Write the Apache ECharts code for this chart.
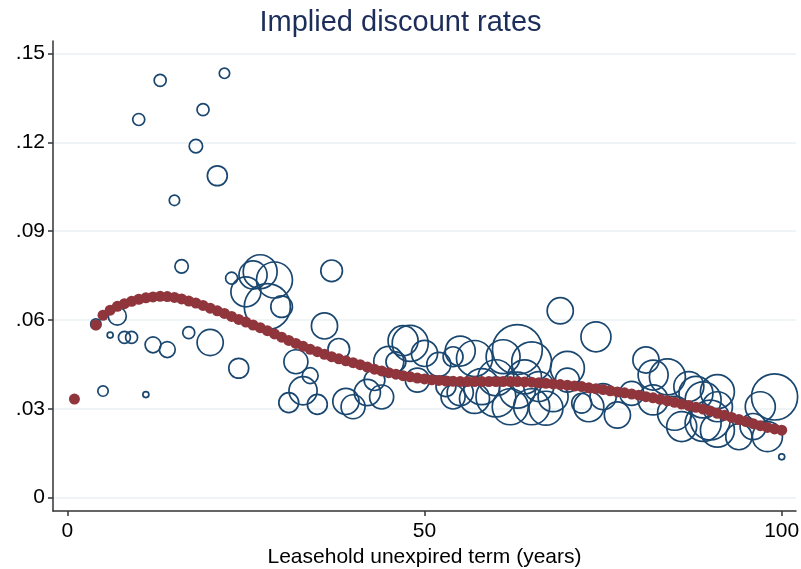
<!DOCTYPE html>
<html>
<head>
<meta charset="utf-8">
<script src="https://cdn.jsdelivr.net/npm/echarts@6/dist/echarts.min.js"></script>
<style>html,body{margin:0;padding:0;background:#fff}#c{width:801px;height:569px}</style>
</head>
<body>
<div id="c"></div>
<script>
// Observed implied discount rates: term (years), rate, weight
const obsTerm = [10,13,22,19,18,21,15,16,37,23, 4,7,6,8,9,5,11,12,14,17,20,24, 25,26,27,29,28,30, 32,34,33,31,35,36,38,
  39,40,42,44,43,45,46,48,47,50,49,52,53,54,54, 55,55,57,57,58,60,60,61,62,63,63,64,65,65,66,67,68,69,70,70,72,74,73,
  75,77,79,81,82,84,82,85,86,88,91,91,89,91,94,97,99,98,96,100,87,89,90];
const obsRate = [.1277,.1409,.1433,.1310,.1187,.1087,.1004,.0781,.0766,.0741, .0586,.0613,.0549,.0541,.0541,.0360,.0348,.0516,.0500,.0557,.0524,.0437,
  .0695,.0752,.0763,.0735,.0645,.0645, .0459,.0412,.0361,.0321,.0315,.0580,.0501,
  .0325,.0307,.0355,.0340,.0397,.0460,.0459,.0521,.0530,.0487,.0397,.0450,.0375,.0476,.0340,
  .0495,.0355,.0470,.0335,.0375,.0405,.0340,.0476,.0307,.0500,.0363,.0408,.0459,.0307,.0375,.0302,.0341,.0631,.0437,.0397,.0319,.0543,.0307,
  .0341,.0279,.0352,.0465,.0414,.0408,.0330,.0285,.0240,.0352,.0358,.0307,.0251,.0228,.0206,.0307,.0340,.0206,.0240,.0138,.0375,.0330,.0262];
const obsWeight = [4,4,3,4,5,11,3,5,13,4, 3,9,1,4,4,3,1,7,7,4,19,11, 25,22,32,36,59,13, 16,7,22,11,11,19,13,
  19,16,19,16,12,25,11,36,25,19,16,16,11,11,16, 25,19,36,25,36,36,44,32,36,69,36,32,44,36,25,32,25,19,32,16,11,25,25,
  19,19,16,19,25,36,25,32,25,32,32,25,36,32,19,25,59,25,19,1,25,36,44];

// Fitted (smoothed) discount rate by term
const fitTerm = [1,4,5,6,7,8,9,10,11,12,13,14,15,16,17,18,19,20,21,22,23,24,25,26,27,28,29,30,31,32,33,34,35,36,37,38,39,40,
  41,42,43,44,45,46,47,48,49,50,51,52,53,54,55,56,57,58,59,60,61,62,63,64,65,66,67,68,69,70,71,72,73,74,75,76,77,78,79,80,
  81,82,83,84,85,86,87,88,89,90,91,92,93,94,95,96,97,98,99,100];
const fitRate = [.0333,.0583,.0616,.0633,.0646,.0655,.0663,.0670,.0675,.0678,.0680,.0679,.0676,.0671,.0664,.0657,.0649,.0640,
  .0631,.0622,.0612,.0602,.0593,.0583,.0574,.0564,.0553,.0542,.0531,.0521,.0511,.0501,.0493,.0484,.0476,.0469,.0462,.0456,
  .0449,.0441,.0434,.0428,.0422,.0417,.0412,.0408,.0404,.0401,.0398,.0396,.0394,.0393,.0392,.0392,.0392,.0392,.0392,.0392,
  .0392,.0392,.0392,.0391,.0390,.0388,.0386,.0384,.0382,.0380,.0377,.0375,.0371,.0368,.0365,.0361,.0357,.0354,.0350,.0346,
  .0341,.0337,.0332,.0327,.0322,.0316,.0311,.0305,.0299,.0293,.0285,.0278,.0271,.0264,.0257,.0250,.0243,.0237,.0232,.0228];

const xTicks = [0, 50, 100];
const yTicks = [0, .03, .06, .09, .12, .15];

const obsData = obsTerm.map((t, i) => [t, obsRate[i], obsWeight[i]]);
const fitData = fitTerm.map((t, i) => [t, fitRate[i]]);

const chart = echarts.init(document.getElementById('c'), null, {renderer: 'canvas'});
const font = 'Liberation Sans, Arial, Helvetica, sans-serif';
chart.setOption({
  animation: false,
  backgroundColor: '#ffffff',
  title: {
    text: 'Implied discount rates', left: 'center', top: 3,
    textStyle: {fontFamily: font, fontSize: 29, fontWeight: 'normal', color: '#1c2d5a'}
  },
  grid: {left: 53, right: 5, top: 41, bottom: 58, containLabel: false, outerBoundsMode: 'none'},
  xAxis: {
    type: 'value', min: -2, max: 102,
    name: 'Leasehold unexpired term (years)', nameLocation: 'middle', nameGap: 36,
    nameTextStyle: {fontFamily: font, fontSize: 21, color: '#000'},
    axisLine: {show: true, onZero: false, lineStyle: {color: '#333', width: 1.5}},
    axisTick: {show: true, customValues: xTicks, length: 5, lineStyle: {color: '#333', width: 1.5}},
    axisLabel: {customValues: xTicks, fontFamily: font, fontSize: 21, color: '#000', margin: 10},
    splitLine: {show: false}
  },
  yAxis: {
    type: 'value', min: -0.0045, max: 0.1542,
    axisLine: {show: true, onZero: false, lineStyle: {color: '#333', width: 1.5}},
    axisTick: {show: true, customValues: yTicks, length: 5, lineStyle: {color: '#333', width: 1.5}},
    axisLabel: {customValues: yTicks, fontFamily: font, fontSize: 21, color: '#000', margin: 8,
      formatter: v => v === 0 ? '0' : String(+v.toFixed(2)).replace(/^0/, '')},
    splitLine: {show: true, lineStyle: {color: '#eaf2f3', width: 1.5}}
  },
  series: [
    {
      type: 'scatter', data: obsData, silent: true,
      symbolSize: d => 6 * Math.sqrt(d[2]),
      itemStyle: {color: 'rgba(0,0,0,0)', borderColor: '#1a476f', borderWidth: 1.7, opacity: 1},
      z: 2
    },
    {
      type: 'scatter', data: fitData, silent: true, symbolSize: 11,
      itemStyle: {color: '#90353b', opacity: 1},
      z: 3
    }
  ]
});
</script>
</body>
</html>
